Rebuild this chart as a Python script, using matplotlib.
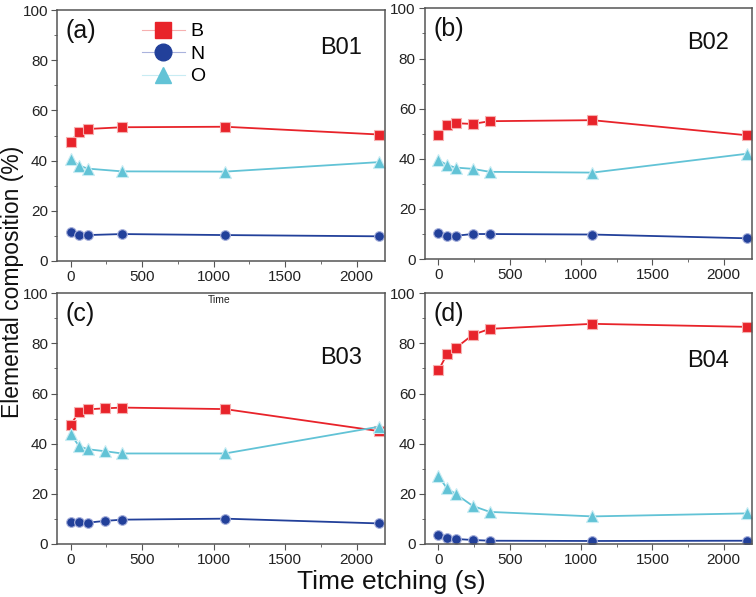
import matplotlib
matplotlib.use("Agg")
import matplotlib.pyplot as plt
from matplotlib.ticker import MultipleLocator
from matplotlib.lines import Line2D

plt.rcParams['font.family'] = ['Liberation Sans', 'DejaVu Sans']

# etching times (s)
t_a = [0, 60, 120, 360, 1080, 2160]
t_bcd = [0, 60, 120, 240, 360, 1080, 2160]

# B01
b01_B = [47.5, 51.6, 52.6, 53.3, 53.5, 50.4]
b01_N = [11.4, 10.3, 10.3, 10.7, 10.3, 9.8]
b01_O = [40.6, 38.0, 36.8, 35.7, 35.6, 39.4]
# B02
b02_B = [49.5, 53.3, 54.2, 53.9, 55.0, 55.4, 49.4]
b02_N = [10.6, 9.3, 9.3, 10.0, 10.0, 9.8, 8.3]
b02_O = [39.6, 37.5, 36.5, 36.0, 34.8, 34.5, 42.0]
# B03
b03_B = [47.5, 52.7, 53.7, 54.1, 54.4, 53.8, 45.0]
b03_N = [8.6, 8.6, 8.5, 9.2, 9.7, 10.1, 8.2]
b03_O = [43.8, 39.0, 37.8, 37.0, 36.1, 36.1, 46.8]
# B04
b04_B = [69.2, 75.7, 78.1, 83.4, 85.8, 87.8, 86.6]
b04_N = [3.7, 2.3, 2.0, 1.6, 1.3, 1.2, 1.3]
b04_O = [27.0, 22.2, 20.0, 15.2, 12.8, 11.0, 12.2]

panels = [
    ("(a)", "B01", t_a, b01_B, b01_N, b01_O),
    ("(b)", "B02", t_bcd, b02_B, b02_N, b02_O),
    ("(c)", "B03", t_bcd, b03_B, b03_N, b03_O),
    ("(d)", "B04", t_bcd, b04_B, b04_N, b04_O),
]
name_y = [85, 86, 74, 73]

red = '#e8232a'
blue = '#22409a'
cyan = '#62c3d6'
spine_col = '#555555'

fig = plt.figure(figsize=(7.56, 5.97), dpi=100)
boxes = [
    [0.0754, 0.563, 0.434, 0.42],
    [0.562, 0.566, 0.433, 0.42],
    [0.0754, 0.0888, 0.434, 0.42],
    [0.562, 0.0888, 0.433, 0.42],
]

for i, (lab, name, t, B, N, O) in enumerate(panels):
    ax = fig.add_axes(boxes[i])
    ax.plot(t, B, '-s', color=red, ms=6.5, mec='#f6b0b0', mew=0.8, lw=1.3)
    ax.plot(t, N, '-o', color=blue, ms=7, mec='#aab3dd', mew=0.8, lw=1.3)
    ax.plot(t, O, '-^', color=cyan, ms=8, mec='#c8ecf3', mew=0.8, lw=1.3)
    ax.set_xlim(-95, 2200)
    ax.set_ylim(0, 100)
    ax.xaxis.set_major_locator(MultipleLocator(500))
    ax.xaxis.set_minor_locator(MultipleLocator(250))
    ax.yaxis.set_major_locator(MultipleLocator(20))
    ax.yaxis.set_minor_locator(MultipleLocator(10))
    ax.tick_params(which='both', direction='out', colors=spine_col,
                   labelcolor='#222222', labelsize=11, pad=2.5)
    ax.tick_params(which='major', length=4)
    ax.tick_params(which='minor', length=2.5)
    for s in ax.spines.values():
        s.set_color(spine_col)
        s.set_linewidth(1.1)
    ax.text(0.025, 0.965, lab, transform=ax.transAxes, fontsize=18,
            va='top', ha='left', color='#111111')
    ax.text(0.93, name_y[i], name, transform=ax.get_yaxis_transform(),
            fontsize=17, ha='right', va='center', color='#111111')
    if i == 0:
        handles = [
            Line2D([], [], color='#f6b0b0', lw=0.8, marker='s', ms=11,
                   mfc=red, mec=red),
            Line2D([], [], color='#aab3dd', lw=0.8, marker='o', ms=12,
                   mfc=blue, mec=blue),
            Line2D([], [], color='#c8ecf3', lw=0.8, marker='^', ms=12,
                   mfc=cyan, mec=cyan),
        ]
        ax.legend(handles, ['B', 'N', 'O'], loc='upper left',
                  bbox_to_anchor=(0.22, 1.0), frameon=False, fontsize=14,
                  handlelength=2.2, handletextpad=0.3, labelspacing=0.25,
                  borderaxespad=0.25)

fig.text(0.29, 0.497, "Time", fontsize=7.5, ha='center', va='center',
         color='#222222')
fig.text(0.518, 0.025, "Time etching (s)", fontsize=19, ha='center',
         va='center', color='#111111')
fig.text(0.0165, 0.528, "Elemental composition (%)", fontsize=16.5,
         rotation=90, ha='center', va='center', color='#111111')

fig.savefig("out.png", dpi=100)
